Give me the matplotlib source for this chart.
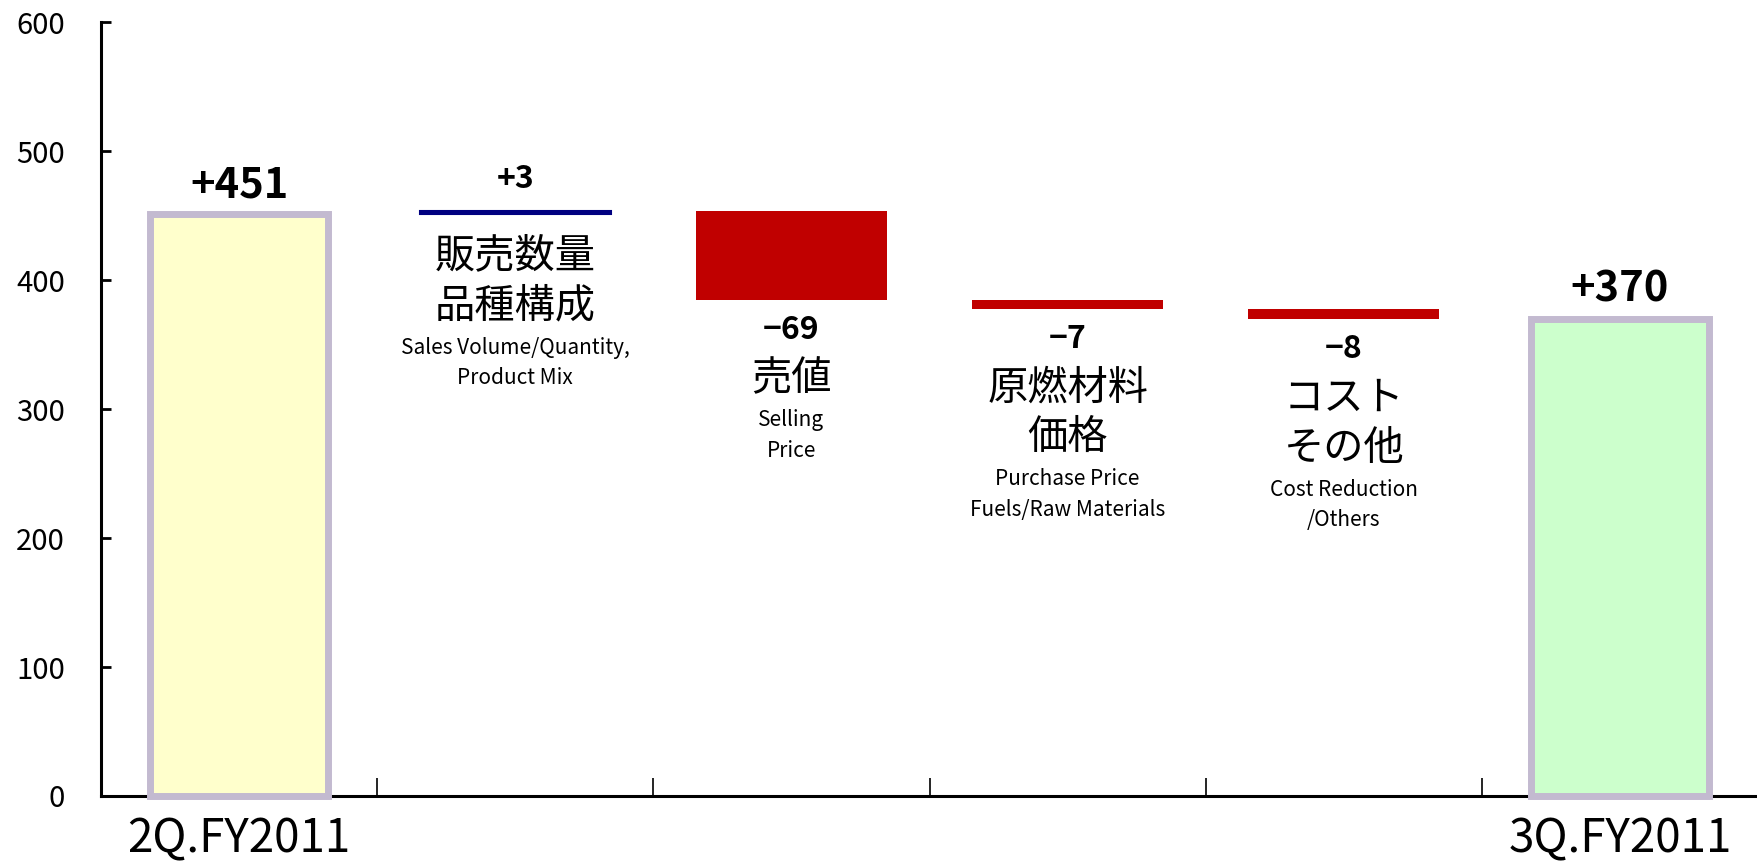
import matplotlib
matplotlib.use("Agg")
import matplotlib.pyplot as plt
import numpy as np

plt.rcParams["font.family"] = ["Noto Sans CJK JP", "DejaVu Sans"]

# data
start_label = "2Q.FY2011"
end_label = "3Q.FY2011"
start_value = 451
end_value = 370
step_values = [3, -69, -7, -8]
step_jp = [["販売数量", "品種構成"], ["売値"], ["原燃材料", "価格"], ["コスト", "その他"]]
step_en = [
    ["Sales Volume/Quantity,", "Product Mix"],
    ["Selling", "Price"],
    ["Purchase Price", "Fuels/Raw Materials"],
    ["Cost Reduction", "/Others"],
]
y_ticks = [0, 100, 200, 300, 400, 500, 600]

TOTAL_FACE = ["#FFFFCC", "#CCFFCC"]
TOTAL_EDGE = "#C3BAD0"
UP_COLOR = "#000080"
DOWN_COLOR = "#C00000"

# gaps between stacked label lines (points)
GAPS = {("num", "jp"): 35, ("jp", "jp"): 36, ("jp", "en"): 30, ("en", "en"): 22}
FIRST = {"num": 22, "jp": 30}
STYLE = {
    "num": dict(fontsize=23, fontweight="bold"),
    "jp": dict(fontsize=29),
    "en": dict(fontsize=15),
}


def fmt(v):
    return f"+{v}" if v > 0 else f"\u2212{abs(v)}"


def stack_below(ax, x, y, lines):
    off = None
    prev = None
    for text, kind in lines:
        off = FIRST[kind] if prev is None else off + GAPS[(prev, kind)]
        ax.annotate(text, (x, y), xytext=(0, -off), textcoords="offset points",
                    ha="center", va="center", **STYLE[kind])
        prev = kind


fig = plt.figure(figsize=(17.58, 8.61), dpi=100)
ax = fig.add_axes([0.0575, 0.0755, 0.9425, 0.8985])

n = len(step_values) + 2
xs = np.arange(n)

# totals
for i, (x, v) in enumerate([(xs[0], start_value), (xs[-1], end_value)]):
    ax.bar(x, v, width=0.645, color=TOTAL_FACE[i], edgecolor=TOTAL_EDGE,
           linewidth=5, zorder=3, clip_on=False)
    ax.annotate(fmt(v), (x, v), xytext=(0, 21), textcoords="offset points",
                ha="center", va="center", fontsize=30, fontweight="bold")

# steps
level = start_value
for k, d in enumerate(step_values):
    x = xs[k + 1]
    bottom = level if d > 0 else level + d
    top = bottom + abs(d)
    c = UP_COLOR if d > 0 else DOWN_COLOR
    ax.bar(x, abs(d), bottom=bottom, width=0.69, color=c, edgecolor=c,
           linewidth=1.5 if abs(d) < 5 else 0, zorder=3)
    lines = [(t, "jp") for t in step_jp[k]] + [(t, "en") for t in step_en[k]]
    if d > 0:
        ax.annotate(fmt(d), (x, top), xytext=(0, 23), textcoords="offset points",
                    ha="center", va="center", **STYLE["num"])
        stack_below(ax, x, bottom, lines)
    else:
        stack_below(ax, x, bottom, [(fmt(d), "num")] + lines)
    level += d

ax.set_xlim(-0.5, n - 0.5)
ax.set_ylim(0, 600)
ax.set_yticks(y_ticks)
ax.tick_params(axis="y", direction="in", length=7, width=2, pad=26, labelsize=21)

ax.set_xticks(xs)
ax.set_xticklabels([start_label] + [""] * len(step_values) + [end_label])
ax.set_xticks(np.arange(0.5, n - 1, 1.0), minor=True)
ax.tick_params(axis="x", which="major", length=0, pad=14, labelsize=33)
ax.tick_params(axis="x", which="minor", direction="in", length=13, width=1.2)

for s in ["top", "right"]:
    ax.spines[s].set_visible(False)
for s in ["left", "bottom"]:
    ax.spines[s].set_linewidth(2.2)

fig.savefig("out.png", dpi=100)
